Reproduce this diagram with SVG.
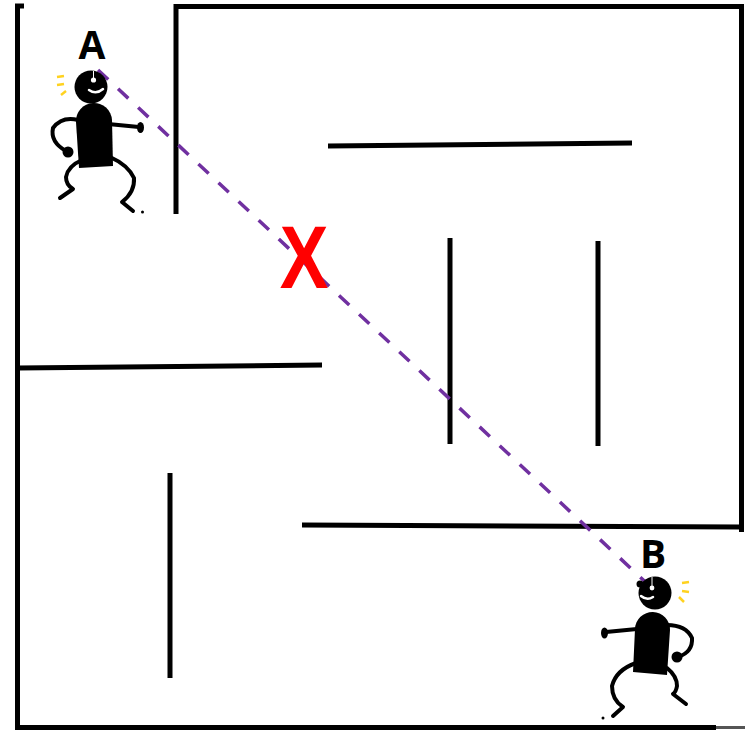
<svg xmlns="http://www.w3.org/2000/svg" width="746" height="730" viewBox="0 0 746 730">
  <style>
    .wall { stroke: #000; stroke-width: 5; fill: none; stroke-linecap: butt; }
    .limb { stroke: #000; stroke-width: 4; fill: none; stroke-linecap: round; stroke-linejoin: round; }
    .spark { stroke: #FFD21F; stroke-width: 2.5; stroke-linecap: butt; }
    .face { stroke: #fff; stroke-width: 2.5; fill: none; stroke-linecap: round; }
    .label { font-family: "Open Sans", "Liberation Sans", Arial, sans-serif; font-weight: bold; font-size: 39px; fill: #000; text-anchor: middle; }
    .mark { font-family: "Liberation Sans", Arial, sans-serif; font-weight: bold; font-size: 89px; fill: #FF0000; text-anchor: middle; }
    .path-line { stroke: #7030A0; stroke-width: 3.5; stroke-dasharray: 14 13.5; fill: none; }
  </style>

  <rect width="746" height="730" fill="#fff"/>

  <!-- maze walls -->
  <g id="walls">
    <path class="wall" d="M17.5,5 V727.5 H716"/>
    <path class="wall" d="M15,6 H24"/>
    <path class="wall" d="M176,214 V6.5 H741.5 V532"/>
    <path class="wall" d="M328,146 L632,143"/>
    <path class="wall" d="M450,238 V444"/>
    <path class="wall" d="M598,241 V446"/>
    <path class="wall" d="M17.5,368 L322,365"/>
    <path class="wall" d="M170,473 V678"/>
    <path class="wall" d="M302,525 L741,527"/>
    <path d="M716,727.5 H745" stroke="#555" stroke-width="3"/>
  </g>

  <!-- straight-line route between the two walkers -->
  <g id="connectors">
    <line class="path-line" x1="98" y1="70" x2="654" y2="590"/>
  </g>

  <!-- walker A -->
  <g id="person-a">
    <text class="label" x="92" y="59">A</text>
    <line class="spark" x1="57" y1="77" x2="64" y2="76"/>
    <line class="spark" x1="57" y1="85" x2="64" y2="84"/>
    <line class="spark" x1="61" y1="95" x2="66" y2="91"/>
    <circle cx="91" cy="87" r="16.5" fill="#000"/>
    <circle cx="93.5" cy="80" r="2.6" fill="#fff"/>
    <line x1="93.5" y1="71" x2="93.5" y2="78" stroke="#fff" stroke-width="1"/>
    <path class="face" d="M89,90 Q96,95 103,89"/>
    <path d="M79,168 L76,122 A18,18 0 0 1 112,120 L113,166 Z" fill="#000"/>
    <path class="limb" d="M108,124 L139,127"/>
    <ellipse cx="140.5" cy="127.5" rx="3.5" ry="5.5" fill="#000"/>
    <path class="limb" d="M78,120 Q62,116 53,128 Q50,142 66,151"/>
    <circle cx="68" cy="152" r="5.5" fill="#000"/>
    <path class="limb" d="M82,160 Q68,166 66,177 Q66,185 73,189 L60,198"/>
    <path class="limb" d="M110,157 Q128,165 134,178 Q135,192 122,202 L133,211"/>
    <circle cx="142.5" cy="212" r="1.5" fill="#000"/>
  </g>

  <!-- walker B -->
  <g id="person-b">
    <text class="label" x="653" y="568">B</text>
    <line class="spark" x1="682" y1="583" x2="689" y2="582"/>
    <line class="spark" x1="682" y1="591" x2="689" y2="592"/>
    <line class="spark" x1="679" y1="597" x2="684" y2="602"/>
    <circle cx="655" cy="593" r="16.5" fill="#000"/>
    <circle cx="640" cy="584" r="3.5" fill="#000"/>
    <circle cx="652" cy="588" r="2.4" fill="#fff"/>
    <line x1="652" y1="577" x2="652" y2="586" stroke="#fff" stroke-width="1"/>
    <path class="face" d="M641,596 Q647,601 653,597"/>
    <path d="M633,672 L635,629 A17.5,17.5 0 0 1 670,630 L667,675 Z" fill="#000"/>
    <path class="limb" d="M637,629 L606,632"/>
    <ellipse cx="604.5" cy="633" rx="3.5" ry="5.5" fill="#000"/>
    <path class="limb" d="M667,625 Q686,625 692,638 Q693,652 678,657"/>
    <circle cx="677" cy="657" r="5.5" fill="#000"/>
    <path class="limb" d="M636,663 Q616,670 612,686 Q612,700 623,707 L613,716"/>
    <path class="limb" d="M667,668 Q677,676 677,686 Q676,692 673,694 L686,704"/>
    <circle cx="603" cy="718" r="1.5" fill="#000"/>
  </g>

  <!-- blocked marker on the direct route -->
  <g id="blocked-mark">
    <text class="mark" transform="translate(304,288) scale(0.82,1)" x="0" y="0">X</text>
  </g>
</svg>
